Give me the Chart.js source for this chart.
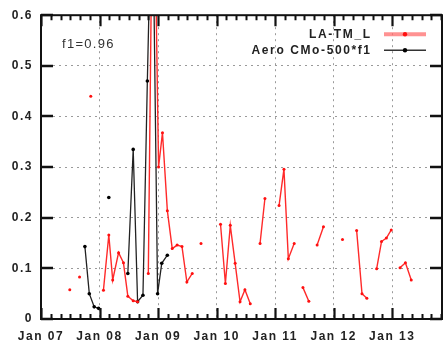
<!DOCTYPE html>
<html>
<head>
<meta charset="utf-8">
<script src="https://cdn.jsdelivr.net/npm/chart.js@4/dist/chart.umd.min.js"></script>
<style>
  html, body { margin: 0; padding: 0; background: #fff; }
  canvas { display: block; }
</style>
</head>
<body>
<canvas id="c" width="446" height="349"></canvas>
<script>
// x positions are months counted from January 2007; null marks a break in a line
const yearTicks  = [0, 12, 24, 36, 48, 60, 72];
const yearLabels = ['Jan 07', 'Jan 08', 'Jan 09', 'Jan 10', 'Jan 11', 'Jan 12', 'Jan 13'];
const monthMax   = 82.2;
const valueTicks = [0, 0.1, 0.2, 0.3, 0.4, 0.5, 0.6];

const laMonths = [5.9, null, 7.9, null, 10.2, null,
  12.8, 13.9, 14.7, 15.9, 16.9, 17.8, 18.9, 19.8, null,
  22.0, 23.0, 24.1, 24.9, 25.9, 26.9, 27.9, 28.9, 29.9, 31.0, null,
  32.8, null,
  36.8, 37.8, 38.8, 39.8, 40.8, 41.8, 42.9, null,
  44.9, 45.9, null,
  48.8, 49.8, 50.7, 51.9, null,
  53.7, 54.9, null,
  56.6, 57.9, null,
  61.8, null,
  64.7, 65.8, 66.8, null,
  68.8, 69.8, 70.8, 71.8, null,
  73.6, 74.7, 75.9];
const laValues = [0.058, null, 0.083, null, 0.44, null,
  0.057, 0.166, 0.077, 0.131, 0.111, 0.045, 0.036, 0.034, null,
  0.09, 1.0, 0.30, 0.368, 0.214, 0.139, 0.146, 0.143, 0.073, 0.09, null,
  0.149, null,
  0.187, 0.07, 0.185, 0.11, 0.034, 0.058, 0.03, null,
  0.149, 0.238, null,
  0.224, 0.296, 0.119, 0.149, null,
  0.062, 0.035, null,
  0.146, 0.182, null,
  0.157, null,
  0.175, 0.05, 0.041, null,
  0.099, 0.153, 0.16, 0.176, null,
  0.101, 0.111, 0.077];

const aeroMonths = [9.0, 9.9, 10.9, 11.8, null,
  13.9, null,
  17.8, 18.9, 19.8, 20.9, 21.8, 22.8, 23.9, 24.75, 25.9];
const aeroValues = [0.143, 0.05, 0.024, 0.021, null,
  0.24, null,
  0.09, 0.335, 0.034, 0.047, 0.47, 0.9, 0.05, 0.11, 0.126];

const f1Text = 'f1=0.96';

const FONT = '"Liberation Sans", Arial, Helvetica, sans-serif';

function toPoints(months, values) {
  let last = 0;
  return months.map((m, i) => {
    if (m === null) return { x: last, y: null };
    last = m;
    return { x: m, y: values[i] };
  });
}

// inward tick marks and the heavy frame round the plot
const framePlugin = {
  id: 'frame',
  afterDatasetsDraw(chart) {
    const { ctx, chartArea: a, scales } = chart;
    const xs = scales.x, ys = scales.y;
    ctx.save();
    ctx.strokeStyle = '#111';
    ctx.lineCap = 'butt';
    // minor x ticks every two months
    ctx.lineWidth = 2;
    ctx.beginPath();
    for (let m = 2; m < monthMax; m += 2) {
      if (m % 12 === 0) continue;
      const px = Math.round(xs.getPixelForValue(m)) + 0.5;
      ctx.moveTo(px, a.bottom); ctx.lineTo(px, a.bottom - 5);
      ctx.moveTo(px, a.top);    ctx.lineTo(px, a.top + 5);
    }
    ctx.stroke();
    // major x ticks
    ctx.lineWidth = 2.2;
    ctx.beginPath();
    yearTicks.forEach(m => {
      const px = Math.round(xs.getPixelForValue(m)) + 0.5;
      ctx.moveTo(px, a.bottom); ctx.lineTo(px, a.bottom - 11);
      ctx.moveTo(px, a.top);    ctx.lineTo(px, a.top + 11);
    });
    ctx.stroke();
    // y ticks on both sides
    ctx.lineWidth = 2.5;
    ctx.beginPath();
    valueTicks.forEach(v => {
      const py = Math.round(ys.getPixelForValue(v));
      ctx.moveTo(a.left, py);  ctx.lineTo(a.left + 12, py);
      ctx.moveTo(a.right, py); ctx.lineTo(a.right - 12, py);
    });
    ctx.stroke();
    // frame
    ctx.lineWidth = 2;
    ctx.strokeRect(a.left, a.top, a.right - a.left, a.bottom - a.top);
    ctx.restore();
  }
};

// key in the upper right corner and the factor note in the upper left
const keyPlugin = {
  id: 'key',
  afterDraw(chart) {
    const { ctx, chartArea: a } = chart;
    ctx.save();
    ctx.letterSpacing = '1.6px';
    ctx.font = 'bold 12px ' + FONT;
    ctx.textAlign = 'right';
    ctx.textBaseline = 'middle';
    chart.data.datasets.forEach((ds, i) => {
      const y = a.top + 19 + i * 16;
      const x1 = a.right - 58, x2 = a.right - 16;
      ctx.fillStyle = '#222';
      ctx.fillText(ds.label, a.right - 72 + 1.6, y);
      ctx.strokeStyle = ds.keyColor;
      ctx.lineWidth = ds.keyWidth;
      ctx.beginPath(); ctx.moveTo(x1, y); ctx.lineTo(x2, y); ctx.stroke();
      ctx.fillStyle = ds.pointBackgroundColor;
      ctx.beginPath(); ctx.arc((x1 + x2) / 2, y, 2.2, 0, Math.PI * 2); ctx.fill();
    });
    ctx.letterSpacing = '1.3px';
    ctx.font = '13px ' + FONT;
    ctx.textAlign = 'left';
    ctx.fillStyle = '#333';
    ctx.fillText(f1Text, a.left + 21, a.top + 29);
    ctx.restore();
  }
};

// wide letter spacing for the axis labels
const spacingPlugin = {
  id: 'spacing',
  beforeDraw(chart) { chart.ctx.letterSpacing = '1.5px'; },
  afterDraw(chart) { chart.ctx.letterSpacing = '0px'; }
};

const gridStyle = { color: '#9a9a9a', lineWidth: 1, drawTicks: false };

new Chart(document.getElementById('c'), {
  type: 'line',
  data: {
    datasets: [
      {
        label: 'LA-TM_L',
        data: toPoints(laMonths, laValues),
        borderColor: '#ff2a2a',
        pointBackgroundColor: '#ff1010',
        borderWidth: 1.4,
        pointRadius: 1.5,
        pointBorderWidth: 0,
        spanGaps: false,
        tension: 0,
        keyColor: 'rgba(255,110,110,0.75)',
        keyWidth: 4
      },
      {
        label: 'Aero CMo-500*f1',
        data: toPoints(aeroMonths, aeroValues),
        borderColor: '#222',
        pointBackgroundColor: '#000',
        borderWidth: 1.3,
        pointRadius: 1.8,
        pointBorderWidth: 0,
        spanGaps: false,
        tension: 0,
        keyColor: '#333',
        keyWidth: 1.5
      }
    ]
  },
  options: {
    responsive: false,
    animation: false,
    devicePixelRatio: 1,
    events: [],
    layout: { padding: { top: 14, right: 1, left: 0, bottom: 0 } },
    plugins: { legend: { display: false }, tooltip: { enabled: false } },
    scales: {
      x: {
        type: 'linear',
        min: 0,
        max: monthMax,
        afterBuildTicks: s => { s.ticks = yearTicks.map(v => ({ value: v })); },
        afterFit: s => { s.height = 30; },
        ticks: {
          callback: v => yearLabels[yearTicks.indexOf(v)],
          font: { family: FONT, size: 12, weight: 'bold' },
          color: '#222',
          padding: 10,
          maxRotation: 0,
          autoSkip: false
        },
        grid: gridStyle,
        border: { display: false, dash: [2, 4] }
      },
      y: {
        min: 0,
        max: 0.6,
        afterBuildTicks: s => { s.ticks = valueTicks.map(v => ({ value: v })); },
        afterFit: s => { s.width = 41; },
        ticks: {
          callback: v => String(Math.round(v * 10) / 10),
          font: { family: FONT, size: 12, weight: 'bold' },
          color: '#222',
          padding: 8
        },
        grid: gridStyle,
        border: { display: false, dash: [2, 4] }
      }
    }
  },
  plugins: [spacingPlugin, framePlugin, keyPlugin]
});
</script>
</body>
</html>
